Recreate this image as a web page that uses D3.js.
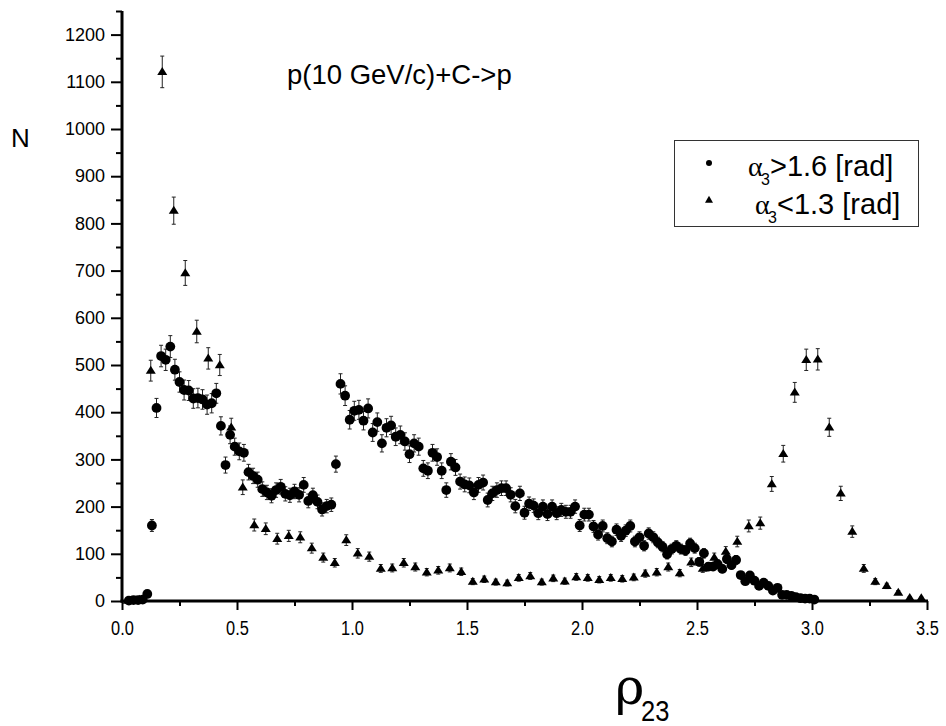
<!DOCTYPE html>
<html>
<head>
<meta charset="utf-8">
<script src="https://cdn.jsdelivr.net/npm/d3@7"></script>
<style>
  body { margin: 0; background: #fff; }
  svg { display: block; }
</style>
</head>
<body>
<div id="chart"></div>
<script>
// N per bin, alpha3 > 1.6 (circles), bins centred at 0.01, 0.03, ... 3.01
var circleStart = 0.01, circleStep = 0.02;
var circleN = [
  0, 1, 2, 2, 3, 15, 160, 409, 519, 511,
  539, 490, 464, 447, 446, 429, 430, 427, 416, 419,
  440, 371, 288, 352, 327, 317, 314, 273, 265, 257,
  237, 230, 223, 235, 242, 227, 224, 232, 225, 246,
  212, 224, 210, 194, 201, 204, 290, 460, 435, 384,
  403, 405, 382, 408, 357, 379, 334, 367, 372, 348,
  352, 338, 311, 334, 327, 281, 276, 314, 305, 276,
  235, 295, 283, 253, 247, 245, 230, 246, 251, 214,
  228, 235, 239, 239, 225, 201, 228, 187, 206, 202,
  186, 200, 184, 200, 186, 193, 189, 189, 200, 160,
  183, 183, 158, 141, 159, 133, 126, 151, 138, 149,
  159, 126, 135, 117, 143, 135, 124, 115, 99, 110,
  117, 110, 107, 122, 112, 83, 101, 73, 73, 78,
  68, 89, 76, 87, 55, 42, 54, 43, 32, 39,
  32, 22, 28, 13, 13, 11, 8, 6, 5, 5,
  3
];

// N per bin, alpha3 < 1.3 (triangles), bins centred at 0.025, 0.075, ... 3.475
var triStart = 0.025, triStep = 0.05;
var triN = [
  1, 3, 488, 1121, 827, 695, 571, 514, 500, 368,
  241, 161, 153, 132, 138, 135, 112, 92, 81, 129,
  101, 94, 69, 70, 81, 72, 61, 65, 70, 62,
  41, 46, 40, 38, 49, 53, 40, 48, 42, 51,
  49, 45, 49, 47, 50, 58, 61, 72, 59, 82,
  69, 92, 105, 126, 159, 165, 248, 312, 442, 511,
  512, 368, 228, 147, 69, 41, 32, 18, 7, 6
];

var xMajor = [0, 0.5, 1.0, 1.5, 2.0, 2.5, 3.0, 3.5];
var xMinor = [0.25, 0.75, 1.25, 1.75, 2.25, 2.75, 3.25];
var yMajor = [0, 100, 200, 300, 400, 500, 600, 700, 800, 900, 1000, 1100, 1200];
var yMinor = [50, 150, 250, 350, 450, 550, 650, 750, 850, 950, 1050, 1150, 1250];

var circles = circleN.map(function(n, i) { return {x: circleStart + i * circleStep, n: n}; });
var triangles = triN.map(function(n, i) { return {x: triStart + i * triStep, n: n}; });

var width = 946, height = 726;

var svg = d3.select("#chart").append("svg")
    .attr("width", width)
    .attr("height", height);

var x = d3.scaleLinear().domain([0, 3.5]).range([122, 927]);
var y = d3.scaleLinear().domain([0, 1250]).range([601, 11]);

// error bars (Poisson, sqrt N)
function errorBars(data, cls) {
  var g = svg.append("g").attr("class", cls)
      .attr("stroke", "#222").attr("stroke-width", 1).attr("fill", "none");
  data.forEach(function(d) {
    if (d.n < 4) return;
    var e = Math.sqrt(d.n), cx = x(d.x);
    g.append("path")
      .attr("d", "M" + cx + "," + y(d.n + e) + "V" + y(d.n - e) +
                 "M" + (cx - 2) + "," + y(d.n + e) + "h4" +
                 "M" + (cx - 2) + "," + y(d.n - e) + "h4");
  });
}
errorBars(circles, "err-c");
errorBars(triangles, "err-t");

function triPath(w, h) {
  return "M0," + (-h * 0.6) + "L" + (w / 2) + "," + (h * 0.4) + "L" + (-w / 2) + "," + (h * 0.4) + "Z";
}

svg.append("g").selectAll("path")
  .data(triangles)
  .enter().append("path")
  .attr("d", triPath(10, 8))
  .attr("transform", function(d) { return "translate(" + x(d.x) + "," + y(d.n) + ")"; })
  .attr("fill", "#000");

svg.append("g").selectAll("circle")
  .data(circles.filter(function(d) { return d.x > 0.02; }))
  .enter().append("circle")
  .attr("cx", function(d) { return x(d.x); })
  .attr("cy", function(d) { return y(d.n); })
  .attr("r", 4.9)
  .attr("fill", "#000");

// axes
var sans = "'Liberation Sans', Arial, sans-serif";

var yAxis = svg.append("g")
    .attr("transform", "translate(122,0)")
    .call(d3.axisLeft(y).tickValues(yMajor).tickSize(11).tickSizeOuter(0).tickPadding(6)
      .tickFormat(d3.format("d")));
yAxis.attr("font-size", 18).attr("font-family", sans);
yAxis.select(".domain").attr("stroke-width", 3).attr("d", "M0," + y(1250) + "V" + (y(0) + 1.5));
yAxis.selectAll(".tick line").attr("stroke-width", 2);
yAxis.selectAll(".tick text")
    .attr("font-size", 18)
    .style("font-size", "18px")
    .attr("fill", "#000");

svg.append("g")
    .attr("transform", "translate(122,0)")
    .call(d3.axisLeft(y).tickValues(yMinor).tickSize(6).tickFormat(""))
    .call(function(g) { g.select(".domain").remove(); })
    .selectAll(".tick line").attr("stroke-width", 2);

var xAxis = svg.append("g")
    .attr("transform", "translate(0,601)")
    .call(d3.axisBottom(x).tickValues(xMajor).tickSize(9).tickSizeOuter(0).tickPadding(10)
      .tickFormat(d3.format(".1f")));
xAxis.attr("font-size", 21).attr("font-family", sans);
xAxis.select(".domain").attr("stroke-width", 3).attr("d", "M" + (x(0) - 1.5) + ",0H" + (x(3.5) + 1));
xAxis.selectAll(".tick line").attr("stroke-width", 2);
// narrow look of the original tick font
xAxis.selectAll(".tick text")
    .attr("transform", "scale(0.78,1)")
    .attr("fill", "#000");

svg.append("g")
    .attr("transform", "translate(0,601)")
    .call(d3.axisBottom(x).tickValues(xMinor).tickSize(5).tickFormat(""))
    .call(function(g) { g.select(".domain").remove(); })
    .selectAll(".tick line").attr("stroke-width", 2);

// labels
svg.append("text")
    .attr("x", 287).attr("y", 84)
    .style("font-family", sans).style("font-size", "27.5px")
    .text("p(10 GeV/c)+C->p");

svg.append("text")
    .attr("x", 11).attr("y", 147)
    .style("font-family", sans).style("font-size", "26px")
    .text("N");

svg.append("text")
    .attr("x", 615).attr("y", 704)
    .style("font-family", "'DejaVu Serif', serif")
    .style("font-size", "50px")
    .text("ρ");
svg.append("text")
    .attr("x", 641).attr("y", 721)
    .attr("transform", "translate(641,721) scale(0.85,1) translate(-641,-721)")
    .style("font-family", sans).style("font-size", "30px")
    .text("23");

// legend
svg.append("rect")
    .attr("x", 674.5).attr("y", 140.5).attr("width", 244).attr("height", 86)
    .attr("fill", "#fff").attr("stroke", "#333").attr("stroke-width", 1);

svg.append("circle").attr("cx", 709).attr("cy", 163).attr("r", 3).attr("fill", "#000");
svg.append("path").attr("d", triPath(8, 7))
    .attr("transform", "translate(709,200)").attr("fill", "#000");

function legendText(xx, yy, rest) {
  svg.append("text").attr("x", xx).attr("y", yy)
      .style("font-family", "'Liberation Serif', serif")
      .style("font-size", "28px").text("α");
  svg.append("text").attr("x", xx + 13).attr("y", yy + 9)
      .style("font-family", sans).style("font-size", "16px").text("3");
  svg.append("text").attr("x", xx + 22).attr("y", yy)
      .style("font-family", sans).style("font-size", "29px").text(rest);
}
legendText(748, 176, ">1.6 [rad]");
legendText(755, 214, "<1.3 [rad]");
</script>
</body>
</html>
